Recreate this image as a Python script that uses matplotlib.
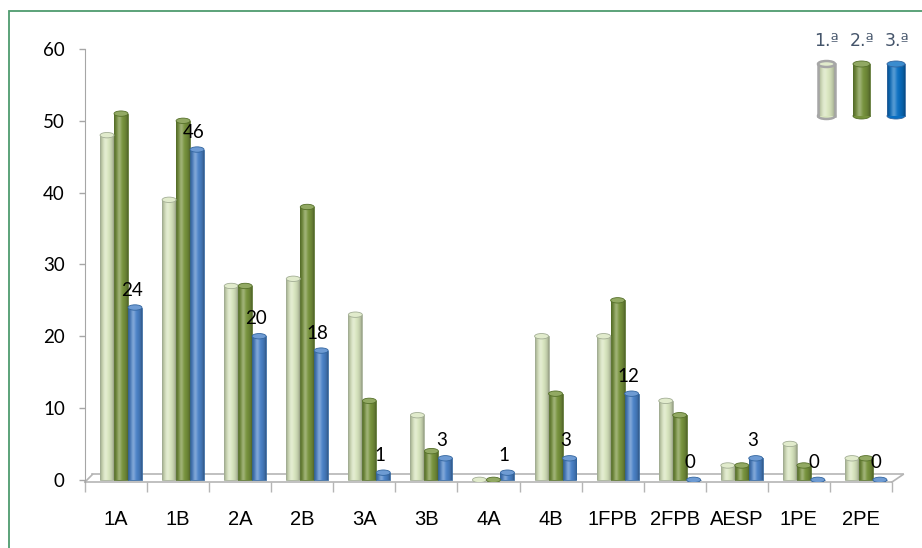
import numpy as np
import matplotlib
matplotlib.use("Agg")
import matplotlib.pyplot as plt
from matplotlib.colors import to_rgb
from matplotlib.patches import Ellipse, Rectangle

categories = ["1A", "1B", "2A", "2B", "3A", "3B", "4A", "4B", "1FPB", "2FPB", "AESP", "1PE", "2PE"]
series_names = ["1.ª", "2.ª", "3.ª"]
s1 = [48, 39, 27, 28, 23, 9, 0, 20, 20, 11, 2, 5, 3]
s2 = [51, 50, 27, 38, 11, 4, 0, 12, 25, 9, 2, 2, 3]
s3 = [24, 46, 20, 18, 1, 3, 1, 3, 12, 0, 3, 0, 0]
yticks = [0, 10, 20, 30, 40, 50, 60]

base_colors = ["#D9E6BF", "#77933C", "#4A82C8"]
edge_colors = ["#A3AE95", "#56702A", "#32659F"]
legend_colors = ["#D9E6BF", "#76923C", "#0A6FC2"]

def cyl_grad(color, n=64):
    c = np.array(to_rgb(color))
    t = np.linspace(0, 1, n)
    shade = 0.66 + 0.34 * np.sin(np.pi * t) ** 0.6
    hl = 0.30 * np.exp(-((t - 0.38) / 0.16) ** 2)
    rgb = c[None, :] * shade[:, None]
    rgb = rgb + (1 - rgb) * hl[:, None]
    return np.clip(rgb, 0, 1)[None, :, :]

def lighter(color, f=0.25):
    c = np.array(to_rgb(color))
    return tuple(c + (1 - c) * f)

W, H = 922, 548
fig = plt.figure(figsize=(W / 100, H / 100), dpi=100)
ax = fig.add_axes([85 / W, (H - 482) / H, (892 - 85) / W, 433 / H])

x = np.arange(len(categories))
bw = 0.225
series = [s1, s2, s3]
eh = 0.75
for j, vals in enumerate(series):
    pos = x + 0.08 + (j - 1) * bw
    bars = ax.bar(pos, vals, width=bw, facecolor="none", edgecolor=edge_colors[j],
                  linewidth=0.6, zorder=3)
    grad = cyl_grad(base_colors[j])
    for p in bars:
        x0, w, h = p.get_x(), p.get_width(), p.get_height()
        if h > 0:
            im = ax.imshow(grad, extent=[x0, x0 + w, 0, h], aspect="auto",
                           interpolation="bilinear", zorder=2)
            im.set_clip_path(p)
        ax.add_patch(Ellipse((x0 + w / 2, h), w, eh, facecolor=lighter(base_colors[j], 0.2),
                             edgecolor=edge_colors[j], linewidth=0.6, zorder=4))
    if j == 2:
        for xi, v in zip(pos, vals):
            ax.annotate(str(v), (xi, v), xytext=(-2.5, 12.5), textcoords="offset points",
                        ha="center", va="center", fontsize=13.5, family=["Lato", "DejaVu Sans"],
                        color="black", zorder=6)

ax.set_aspect("auto")
ax.set_xlim(-0.5, len(categories) - 0.5)
ax.set_ylim(-0.3, 60)

# floor
floor_c = "#B5B5B5"
ax.plot([-0.5, 12.5], [-0.3, -0.3], color=floor_c, lw=1.2, clip_on=False, zorder=1)
ax.plot([-0.38, 12.68], [0.75, 0.75], color=floor_c, lw=1.2, clip_on=False, zorder=1)
ax.plot([12.5, 12.68], [-0.3, 0.75], color=floor_c, lw=1.2, clip_on=False, zorder=1)
ax.plot([-0.5, -0.38], [-0.3, 0.75], color=floor_c, lw=1.2, clip_on=False, zorder=1)

for s in ["top", "right", "bottom"]:
    ax.spines[s].set_visible(False)
ax.spines["left"].set_color("#A6A6A6")
ax.spines["left"].set_bounds(-0.3, 60)

ax.set_yticks(yticks)
ax.set_yticklabels([str(v) for v in yticks], fontsize=13.5, family=["Lato", "DejaVu Sans"])
ax.tick_params(axis="y", length=4.5, width=1, color="#A6A6A6", pad=10)

ax.set_xticks(x)
ax.set_xticklabels(categories, fontsize=14.5,
                   family=["Liberation Sans", "DejaVu Sans"])
ax.set_xticks(np.arange(-0.5, len(categories)), minor=True)
ax.tick_params(axis="x", which="major", length=0, pad=20)
ax.tick_params(axis="x", which="minor", length=7, width=1, color="#B5B5B5")
ax.patch.set_visible(False)

# legend
lax = fig.add_axes([800 / W, 1 - 130 / H, 122 / W, 110 / H])
lax.set_xlim(800, 922)
lax.set_ylim(130, 20)
lax.axis("off")
lx = [(818, 835), (853, 870), (887, 905)]
tx = [826, 862, 897]
for j in range(3):
    a, b = lx[j]
    ec = "#A6A6A6" if j == 0 else edge_colors[j]
    lw = 1.8 if j == 0 else 0.6
    top, bot = 64, 116
    lax.add_patch(Ellipse(((a + b) / 2, bot), b - a, 6, facecolor=legend_colors[j],
                          edgecolor=ec, lw=lw, zorder=1))
    r = Rectangle((a, top), b - a, bot - top, facecolor="none", edgecolor="none", zorder=2)
    lax.add_patch(r)
    im = lax.imshow(cyl_grad(legend_colors[j]), extent=[a, b, bot, top], aspect="auto",
                    interpolation="bilinear", zorder=2)
    im.set_clip_path(r)
    lax.plot([a, a], [top, bot], color=ec, lw=lw, zorder=3)
    lax.plot([b, b], [top, bot], color=ec, lw=lw, zorder=3)
    lax.add_patch(Ellipse(((a + b) / 2, top), b - a, 6, facecolor=lighter(legend_colors[j], 0.2),
                          edgecolor=ec, lw=lw, zorder=4))
    lax.text(tx[j], 41, series_names[j], ha="center", va="center", fontsize=12.5,
             color="#44546A", family=["DejaVu Sans"])
lax.set_aspect("auto")
lax.set_xlim(800, 922)
lax.set_ylim(130, 20)

# frame border
fig.patches.append(Rectangle((9 / W, -0.1), 1.2, 1 - 11 / H + 0.1, transform=fig.transFigure,
                             fill=False, edgecolor="#4E9B6E", lw=1.3))

fig.savefig("out.png", dpi=100)
